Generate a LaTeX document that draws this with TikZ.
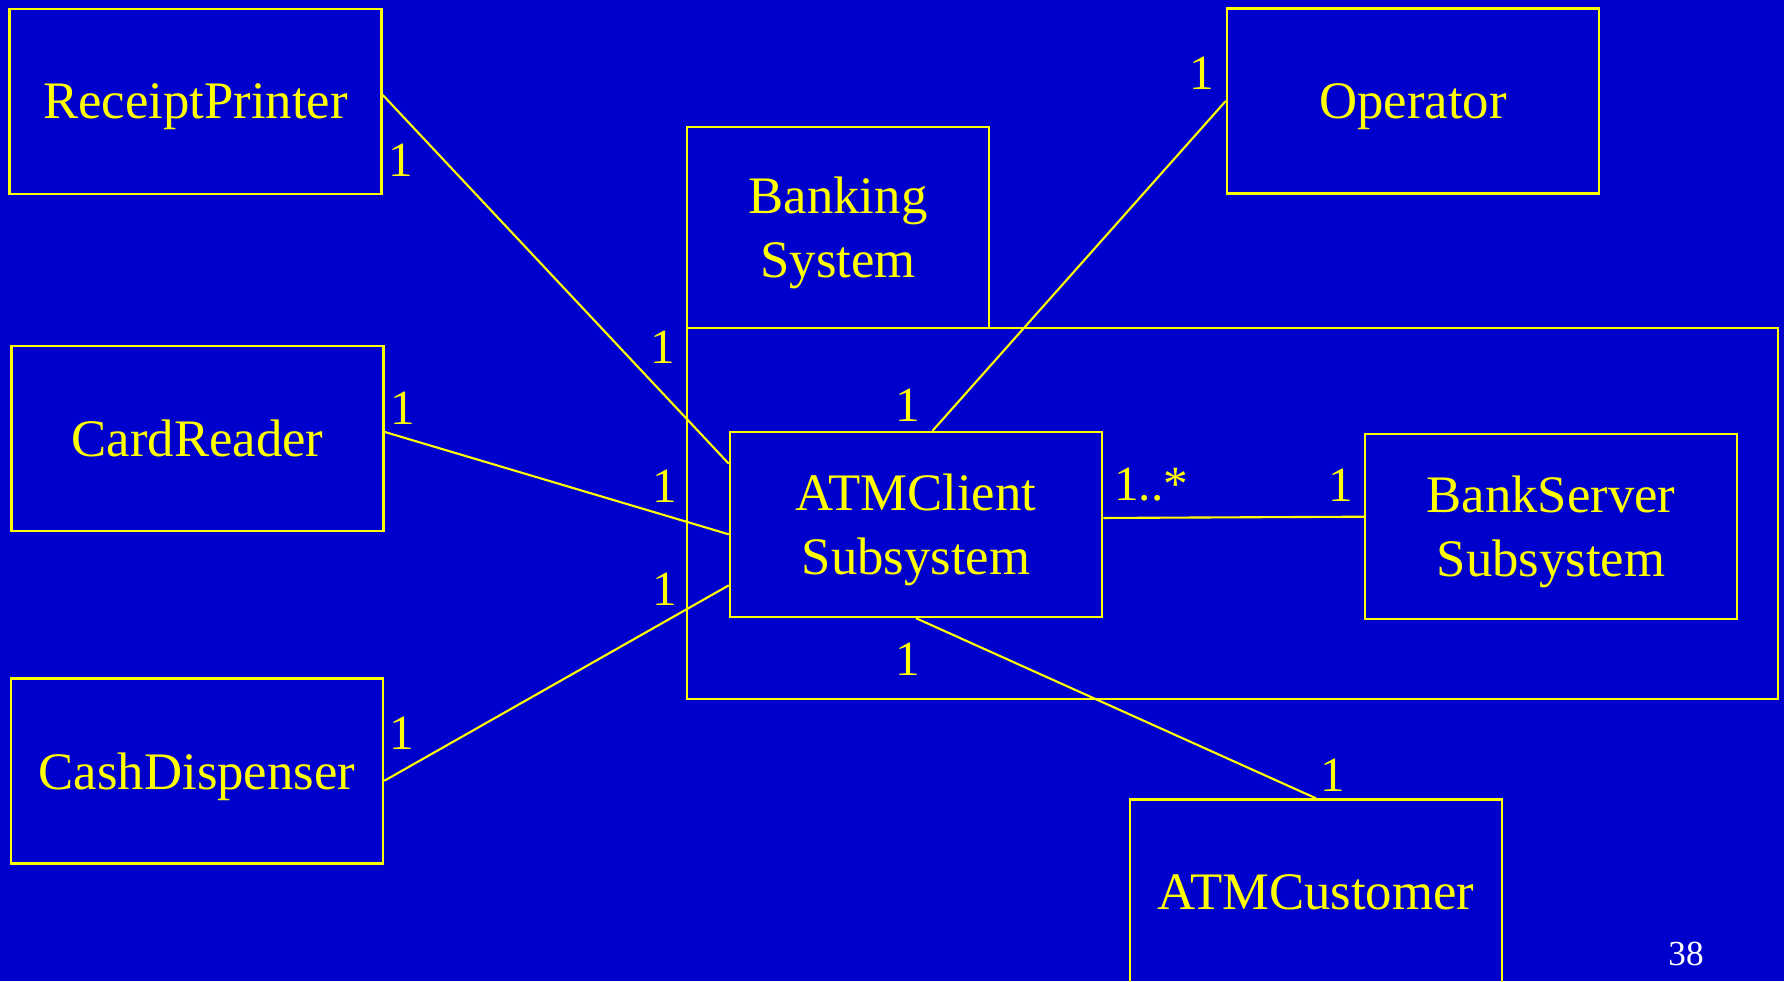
\documentclass[tikz,border=0pt]{standalone}
\usepackage{fontspec}
\setmainfont{Liberation Serif}

\definecolor{slideblue}{RGB}{0,0,204}
\definecolor{umlyellow}{RGB}{255,255,0}

\tikzset{
  classbox/.style={draw=umlyellow, line width=0.65pt, text=umlyellow,
    minimum width=3.72cm, minimum height=1.85cm, inner sep=0pt, text depth=0pt,
    align=center, font=\fontsize{15}{18.2}\selectfont},
  assoc/.style={umlyellow, line width=0.6pt},
  mult/.style={text=umlyellow, inner sep=0pt, font=\fontsize{14}{16}\selectfont},
}

\begin{document}
\begin{tikzpicture}[x=0.01cm, y=-0.01cm]

% Background
\fill[slideblue] (0,0) rectangle (1784,981);
\useasboundingbox (0,0) rectangle (1784,981);
\clip (0,0) rectangle (1784,981);

% Package
\node[classbox, minimum width=3.02cm, minimum height=2.01cm] (pkgtab) at (838,227.5) {Banking\\System};
\node[classbox, minimum width=10.91cm, minimum height=3.71cm] (pkgbody) at (1232.5,513.5) {};

% Classes
\node[classbox] (rp) at (195.5,101.5) {ReceiptPrinter};
\node[classbox] (cr) at (197.5,438.5) {CardReader};
\node[classbox] (cd) at (197,771) {CashDispenser};
\node[classbox] (op) at (1413,101) {Operator};
\node[classbox] (atm) at (916,524.5) {ATMClient\\Subsystem};
\node[classbox] (bs) at (1551,526.5) {BankServer\\Subsystem};
\node[classbox] (cu) at (1316,892) {ATMCustomer};

% Associations
\draw[assoc] (rp.2) -- (atm.162);
\draw[assoc] (cr.2) -- (atm.183);
\draw[assoc] (cd.-3) -- (atm.198);
\draw[assoc] (atm.80) -- (op.west);
\draw[assoc] (atm.2) -- (bs.177);
\draw[assoc] (atm.south) -- (cu.north);

% Multiplicities
\node[mult] (rp-m) at (401,160) {1};
\node[mult] (atm-rp) at (663,347) {1};
\node[mult] (cr-m) at (403,408) {1};
\node[mult] (atm-cr) at (665,486) {1};
\node[mult] (atm-cd) at (665,589) {1};
\node[mult] (cd-m) at (402,733) {1};
\node[mult] (op-m) at (1202,73) {1};
\node[mult] (atm-op) at (908,405) {1};
\node[mult] (atm-bs) at (1151,485) {1..*};
\node[mult] (bs-m) at (1341,485) {1};
\node[mult] (atm-cu) at (908,659) {1};
\node[mult] (cu-m) at (1333,775) {1};

% Page number
\node[text=white, inner sep=0pt, font=\fontsize{10}{12}\selectfont] (pagenum) at (1686,954) {38};

\end{tikzpicture}
\end{document}
